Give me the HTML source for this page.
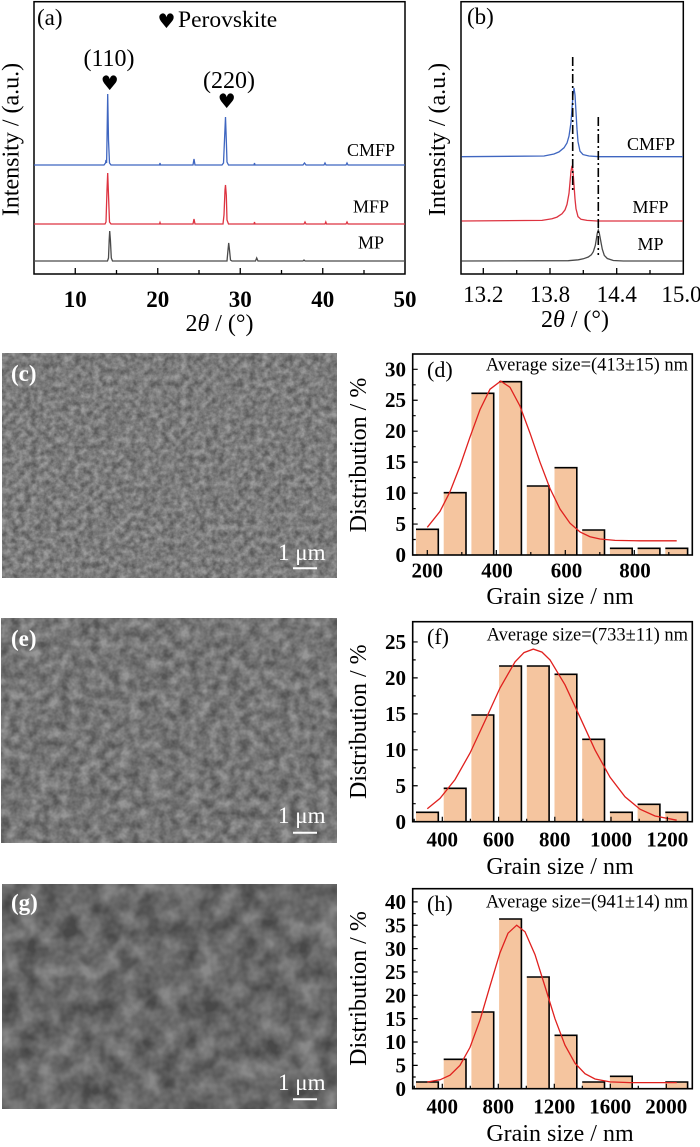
<!DOCTYPE html>
<html>
<head>
<meta charset="utf-8">
<style>
html,body{margin:0;padding:0;background:#fff;}
svg{display:block;}
text{font-family:"Liberation Serif","DejaVu Serif",serif;fill:#000;}
.t24{font-size:24px;}
.tk{font-size:23px;font-weight:bold;}
.tkb{font-size:23px;}
.lab{font-size:18px;}
.hk{font-size:21px;font-weight:bold;}
.avg{font-size:18.5px;}
.w{fill:#fff;}
</style>
</head>
<body>
<svg width="700" height="1147" viewBox="0 0 700 1147" xmlns="http://www.w3.org/2000/svg">
<defs>
<filter id="n1" x="0" y="0" width="1" height="1" color-interpolation-filters="sRGB">
<feTurbulence type="fractalNoise" baseFrequency="0.16" numOctaves="3" seed="2"/>
<feColorMatrix type="matrix" values="1 0 0 0 0 1 0 0 0 0 1 0 0 0 0 0 0 0 0 1"/>
<feComponentTransfer><feFuncR type="linear" slope="1.6" intercept="-0.3"/><feFuncG type="linear" slope="1.6" intercept="-0.3"/><feFuncB type="linear" slope="1.6" intercept="-0.3"/></feComponentTransfer>
</filter>
<filter id="n2" x="0" y="0" width="1" height="1" color-interpolation-filters="sRGB">
<feTurbulence type="fractalNoise" baseFrequency="0.1" numOctaves="3" seed="5"/>
<feColorMatrix type="matrix" values="1 0 0 0 0 1 0 0 0 0 1 0 0 0 0 0 0 0 0 1"/>
<feComponentTransfer><feFuncR type="linear" slope="1.6" intercept="-0.3"/><feFuncG type="linear" slope="1.6" intercept="-0.3"/><feFuncB type="linear" slope="1.6" intercept="-0.3"/></feComponentTransfer>
</filter>
<filter id="n3" x="0" y="0" width="1" height="1" color-interpolation-filters="sRGB">
<feTurbulence type="fractalNoise" baseFrequency="0.05" numOctaves="3" seed="9"/>
<feColorMatrix type="matrix" values="1 0 0 0 0 1 0 0 0 0 1 0 0 0 0 0 0 0 0 1"/>
<feComponentTransfer><feFuncR type="linear" slope="1.6" intercept="-0.3"/><feFuncG type="linear" slope="1.6" intercept="-0.3"/><feFuncB type="linear" slope="1.6" intercept="-0.3"/></feComponentTransfer>
</filter>
</defs>

<!-- ============ PANEL (a) ============ -->
<rect x="34" y="1.7" width="371" height="272.3" fill="none" stroke="#000" stroke-width="1.5"/>
<g stroke="#000" stroke-width="1.3">
<line x1="75.25" y1="274" x2="75.25" y2="268"/>
<line x1="116.5" y1="274" x2="116.5" y2="270"/>
<line x1="157.75" y1="274" x2="157.75" y2="268"/>
<line x1="199" y1="274" x2="199" y2="270"/>
<line x1="240.25" y1="274" x2="240.25" y2="268"/>
<line x1="281.5" y1="274" x2="281.5" y2="270"/>
<line x1="322.75" y1="274" x2="322.75" y2="268"/>
<line x1="364" y1="274" x2="364" y2="270"/>
</g>
<path d="M34,165 L104,165 L105.5,163 L106,160 L106.6,163 L107,140 L107.7,94 L108.5,140 L109.5,163 L111,165 L159.5,165 L160,163 L160.5,165 L193,165 L194,159 L195,165 L222,165 L223.5,163 L224.5,140 L225.5,117 L226.3,140 L227,162 L228.5,165 L254,165 L254.5,163 L255,165 L303,165 L304.5,163 L306,165 L324,165 L325,163 L326,165 L346,165 L347,163 L348,165 L405,165" fill="none" stroke="#3f66c0" stroke-width="1.3"/>
<path d="M34,224 L105,224 L106,222 L107,190 L107.7,173 L108.5,195 L109.5,222 L111,224 L159.5,224 L160,222.5 L160.5,224 L193,224 L194,219 L195,224 L223,224 L224,215 L225,190 L225.5,185 L226.3,195 L227,220 L228.5,224 L254,224 L254.5,222 L255,224 L304,224 L305,222 L306,224 L325,224 L325.8,222 L326.5,224 L346,224 L347,222 L348,224 L405,224" fill="none" stroke="#dd3340" stroke-width="1.3"/>
<path d="M34,261 L107.5,261 L108.5,258 L109.2,240 L109.7,231 L110.4,240 L111.3,258 L112.5,261 L227,261 L228,250 L228.7,243 L229.5,250 L230.5,260 L232,261 L255.5,261 L256.7,258 L258,261 L303,261 L304,260 L305,261 L405,261" fill="none" stroke="#4a4a4a" stroke-width="1.3"/>
<text x="37" y="25" class="t24" style="font-size:23px">(a)</text>
<text x="166.5" y="28" text-anchor="middle" style="font-family:'DejaVu Sans',sans-serif;font-size:20px">♥</text>
<text x="178" y="27" style="font-size:23.5px">Perovskite</text>
<text x="109" y="66" text-anchor="middle" class="t24">(110)</text>
<text x="109.7" y="90" text-anchor="middle" style="font-family:'DejaVu Sans',sans-serif;font-size:20px">♥</text>
<text x="229" y="88" text-anchor="middle" class="t24">(220)</text>
<text x="226.7" y="108" text-anchor="middle" style="font-family:'DejaVu Sans',sans-serif;font-size:20px">♥</text>
<text x="395" y="156" text-anchor="end" class="lab">CMFP</text>
<text x="389" y="212.5" text-anchor="end" class="lab">MFP</text>
<text x="384" y="248.5" text-anchor="end" class="lab">MP</text>
<g class="tk" text-anchor="middle">
<text x="75.25" y="307" class="tk">10</text>
<text x="157.75" y="307" class="tk">20</text>
<text x="240.25" y="307" class="tk">30</text>
<text x="322.75" y="307" class="tk">40</text>
<text x="405" y="307" class="tk">50</text>
</g>
<text x="219.5" y="331" text-anchor="middle" class="t24">2<tspan font-style="italic">θ</tspan> / (°)</text>
<text transform="translate(18.5,139.5) rotate(-90)" text-anchor="middle" class="t24">Intensity / (a.u.)</text>

<!-- ============ PANEL (b) ============ -->
<rect x="461" y="1.7" width="222.3" height="272.3" fill="none" stroke="#000" stroke-width="1.5"/>
<g stroke="#000" stroke-width="1.3">
<line x1="483.3" y1="274" x2="483.3" y2="268"/>
<line x1="516.7" y1="274" x2="516.7" y2="270"/>
<line x1="550" y1="274" x2="550" y2="268"/>
<line x1="583.3" y1="274" x2="583.3" y2="270"/>
<line x1="616.7" y1="274" x2="616.7" y2="268"/>
<line x1="650" y1="274" x2="650" y2="270"/>
</g>
<path d="M461.7,156.7 L544,156 L554,153.95 L559,151.9 L564,147.8 L567,143 L569,136.1 L571,122.35 L572,108.6 L573,94.9 L574,88 L575,94.9 L576,112 L577,129.2 L578,141.6 L580,151.2 L583,154.6 L589,156 L599,156.7 L683,156.7" fill="none" stroke="#3f66c0" stroke-width="1.3"/>
<path d="M461.7,221 L542,220.4 L552,218.8 L557,217.1 L562,213.8 L565,209.9 L567,204.4 L569,193.4 L570,182.3 L571,171.2 L572,165.7 L573,171.2 L574,185.1 L575,198.9 L576,208.8 L578,216.6 L581,219.3 L587,220.4 L597,221 L683,221" fill="none" stroke="#dd3340" stroke-width="1.3"/>
<path d="M461.7,261 L568.3,260.7 L578.3,259.8 L583.3,258.8 L588.3,257 L591.3,254.8 L593.3,251.7 L595.3,245.5 L596.3,239.3 L597.3,233.1 L598.3,230 L599.3,233.1 L600.3,238.5 L601.3,244 L602.3,249.2 L604.3,255.4 L607.3,258.5 L613.3,260.5 L623.3,261 L683,261" fill="none" stroke="#4a4a4a" stroke-width="1.3"/>
<line x1="572.7" y1="57" x2="572.7" y2="190" stroke="#000" stroke-width="1.6" stroke-dasharray="9 3 2 3"/>
<line x1="598.3" y1="117" x2="598.3" y2="255" stroke="#000" stroke-width="1.6" stroke-dasharray="9 3 2 3"/>
<text x="467" y="24" class="t24" style="font-size:23px">(b)</text>
<text x="675" y="150" text-anchor="end" class="lab">CMFP</text>
<text x="668.5" y="213" text-anchor="end" class="lab">MFP</text>
<text x="663.5" y="250" text-anchor="end" class="lab">MP</text>
<text x="483.3" y="302" text-anchor="middle" class="tkb">13.2</text>
<text x="550" y="302" text-anchor="middle" class="tkb">13.8</text>
<text x="616.7" y="302" text-anchor="middle" class="tkb">14.4</text>
<text x="681.5" y="302" text-anchor="middle" class="tkb">15.0</text>
<text x="575" y="327" text-anchor="middle" class="t24">2<tspan font-style="italic">θ</tspan> / (°)</text>
<text transform="translate(445,139.5) rotate(-90)" text-anchor="middle" class="t24">Intensity / (a.u.)</text>

<!-- ============ SEM images ============ -->
<rect x="2" y="353" width="335" height="225" fill="#7b7b7b"/>
<rect x="2" y="353" width="335" height="225" filter="url(#n1)" opacity="0.25"/>
<text x="11" y="381" class="w" style="font-size:23px;font-weight:bold">(c)</text>
<text x="278" y="560" class="w" style="font-size:23px">1 μm</text>
<line x1="293" y1="568.3" x2="317" y2="568.3" stroke="#fff" stroke-width="2"/>

<rect x="1" y="618" width="336" height="225" fill="#737373"/>
<rect x="1" y="618" width="336" height="225" filter="url(#n2)" opacity="0.25"/>
<text x="11" y="646" class="w" style="font-size:23px;font-weight:bold">(e)</text>
<text x="278" y="823" class="w" style="font-size:23px">1 μm</text>
<line x1="293" y1="832.7" x2="317" y2="832.7" stroke="#fff" stroke-width="2"/>

<rect x="2" y="884" width="335" height="225" fill="#616161"/>
<rect x="2" y="884" width="335" height="225" filter="url(#n3)" opacity="0.25"/>
<text x="11" y="910" class="w" style="font-size:23px;font-weight:bold">(g)</text>
<text x="278" y="1090" class="w" style="font-size:23px">1 μm</text>
<line x1="293" y1="1099.3" x2="317" y2="1099.3" stroke="#fff" stroke-width="2"/>

<!-- ============ PANEL (d) ============ -->
<g fill="#F5C59F">
<rect x="416" y="529.3" width="22.3" height="25.7"/>
<rect x="443.7" y="492.7" width="22.3" height="62.3"/>
<rect x="471.4" y="393.3" width="22.3" height="161.7"/>
<rect x="499.1" y="381.7" width="22.3" height="173.3"/>
<rect x="526.8" y="486" width="22.3" height="69"/>
<rect x="554.5" y="467.7" width="22.3" height="87.3"/>
<rect x="582.2" y="530" width="22.3" height="25"/>
<rect x="609.9" y="548.3" width="22.3" height="6.7"/>
<rect x="637.6" y="548.3" width="22.3" height="6.7"/>
<rect x="665.3" y="548.3" width="22.3" height="6.7"/>
</g>
<path d="M416,529.3H438.3V555 M443.7,492.7H466V555 M471.4,393.3H493.7V555 M499.1,381.7H521.4V555 M526.8,486H549.1V555 M554.5,467.7H576.8V555 M582.2,530H604.5V555 M609.9,548.3H632.2V555 M637.6,548.3H659.9V555 M665.3,548.3H687.6V555" fill="none" stroke="#000" stroke-width="1.6"/>
<path d="M427.3,527.3 L440,511.4 L450,491.7 L460,466.1 L470,437.1 L480,409.6 L490,389.2 L500.7,381.1 L510,387.3 L520,406.1 L530,433.1 L540,462.2 L550,488.5 L560,509 L570,523.2 L580,531.9 L590,536.7 L600,539 L615,540.4 L640,540.8 L676.7,540.8" fill="none" stroke="#e0201e" stroke-width="1.3"/>
<rect x="412.7" y="354" width="279.6" height="201" fill="none" stroke="#000" stroke-width="1.6"/>
<g stroke="#000" stroke-width="1.2">
<path d="M412.7,555h5 M412.7,539.5h3 M412.7,524.05h5 M412.7,508.6h3 M412.7,493.1h5 M412.7,477.6h3 M412.7,462.15h5 M412.7,446.7h3 M412.7,431.2h5 M412.7,415.7h3 M412.7,400.25h5 M412.7,384.8h3 M412.7,369.3h5"/>
<path d="M427.3,555v-5 M461.8,555v-3 M496.3,555v-5 M530.8,555v-3 M565.3,555v-5 M599.8,555v-3 M634.3,555v-5 M668.8,555v-3"/>
</g>
<g text-anchor="end">
<text x="406" y="562" class="hk">0</text>
<text x="406" y="531" class="hk">5</text>
<text x="406" y="500" class="hk">10</text>
<text x="406" y="469" class="hk">15</text>
<text x="406" y="438" class="hk">20</text>
<text x="406" y="407" class="hk">25</text>
<text x="406" y="376.5" class="hk">30</text>
</g>
<g text-anchor="middle">
<text x="427.3" y="577.5" class="hk">200</text>
<text x="497" y="577.5" class="hk">400</text>
<text x="566.5" y="577.5" class="hk">600</text>
<text x="635" y="577.5" class="hk">800</text>
</g>
<text x="427" y="377" class="t24" style="font-size:22px">(d)</text>
<text x="688" y="370.5" text-anchor="end" class="avg">Average size=(413±15) nm</text>
<text x="560" y="604" text-anchor="middle" class="t24">Grain size / nm</text>
<text transform="translate(366,455) rotate(-90)" text-anchor="middle" class="t24">Distribution / %</text>

<!-- ============ PANEL (f) ============ -->
<g fill="#F5C59F">
<rect x="416" y="812.3" width="22.3" height="9.4"/>
<rect x="443.7" y="788.3" width="22.3" height="33.4"/>
<rect x="471.4" y="715" width="22.3" height="106.7"/>
<rect x="499.1" y="666" width="22.3" height="155.7"/>
<rect x="526.8" y="666" width="22.3" height="155.7"/>
<rect x="554.5" y="674.3" width="22.3" height="147.4"/>
<rect x="582.2" y="739.3" width="22.3" height="82.4"/>
<rect x="609.9" y="812.3" width="22.3" height="9.4"/>
<rect x="637.6" y="804.3" width="22.3" height="17.4"/>
<rect x="665.3" y="812.3" width="22.3" height="9.4"/>
</g>
<path d="M416,812.3H438.3V821.7 M443.7,788.3H466V821.7 M471.4,715H493.7V821.7 M499.1,666H521.4V821.7 M526.8,666H549.1V821.7 M554.5,674.3H576.8V821.7 M582.2,739.3H604.5V821.7 M609.9,812.3H632.2V821.7 M637.6,804.3H659.9V821.7 M665.3,812.3H687.6V821.7" fill="none" stroke="#000" stroke-width="1.6"/>
<path d="M427.3,808.7 L440,798.4 L455,779.6 L470,753.1 L485,720.9 L500,688 L515,661.9 L524,652.6 L533.3,649.1 L542,652.1 L550,659.9 L565,684.8 L580,717.2 L595,749.9 L610,777.2 L625,796.8 L640,809.2 L655,816 L676.7,820.2" fill="none" stroke="#e0201e" stroke-width="1.3"/>
<rect x="412.7" y="621.7" width="279.6" height="200" fill="none" stroke="#000" stroke-width="1.6"/>
<g stroke="#000" stroke-width="1.2">
<path d="M412.7,821.7h5 M412.7,803.7h3 M412.7,785.75h5 M412.7,767.8h3 M412.7,749.8h5 M412.7,731.8h3 M412.7,713.85h5 M412.7,695.9h3 M412.7,677.9h5 M412.7,659.9h3 M412.7,641.95h5"/>
<path d="M414.2,821.7v-3 M442.3,821.7v-5 M470.4,821.7v-3 M498.6,821.7v-5 M526.7,821.7v-3 M554.8,821.7v-5 M582.9,821.7v-3 M611,821.7v-5 M639.2,821.7v-3 M667.3,821.7v-5"/>
</g>
<g text-anchor="end">
<text x="406" y="829" class="hk">0</text>
<text x="406" y="793" class="hk">5</text>
<text x="406" y="757" class="hk">10</text>
<text x="406" y="721" class="hk">15</text>
<text x="406" y="685" class="hk">20</text>
<text x="406" y="649" class="hk">25</text>
</g>
<g text-anchor="middle">
<text x="442.3" y="846.5" class="hk">400</text>
<text x="498.6" y="846.5" class="hk">600</text>
<text x="554.8" y="846.5" class="hk">800</text>
<text x="611" y="846.5" class="hk">1000</text>
<text x="667.3" y="846.5" class="hk">1200</text>
</g>
<text x="427" y="644" class="t24" style="font-size:22px">(f)</text>
<text x="688" y="640.5" text-anchor="end" class="avg">Average size=(733±11) nm</text>
<text x="560" y="874" text-anchor="middle" class="t24">Grain size / nm</text>
<text transform="translate(366,721.7) rotate(-90)" text-anchor="middle" class="t24">Distribution / %</text>

<!-- ============ PANEL (h) ============ -->
<g fill="#F5C59F">
<rect x="416" y="1082" width="22.3" height="6.7"/>
<rect x="443.7" y="1059.3" width="22.3" height="29.4"/>
<rect x="471.4" y="1012" width="22.3" height="76.7"/>
<rect x="499.1" y="919" width="22.3" height="169.7"/>
<rect x="526.8" y="977" width="22.3" height="111.7"/>
<rect x="554.5" y="1035.3" width="22.3" height="53.4"/>
<rect x="582.2" y="1082" width="22.3" height="6.7"/>
<rect x="609.9" y="1076.3" width="22.3" height="12.4"/>
<rect x="665.3" y="1082" width="22.3" height="6.7"/>
</g>
<path d="M416,1082H438.3V1088.7 M443.7,1059.3H466V1088.7 M471.4,1012H493.7V1088.7 M499.1,919H521.4V1088.7 M526.8,977H549.1V1088.7 M554.5,1035.3H576.8V1088.7 M582.2,1082H604.5V1088.7 M609.9,1076.3H632.2V1088.7 M665.3,1082H687.6V1088.7" fill="none" stroke="#000" stroke-width="1.6"/>
<path d="M427.3,1082 L440,1079.8 L450,1075.2 L460,1065.3 L470,1047.4 L480,1020.1 L490,986.1 L500,952.7 L508,933.2 L516.7,925.2 L525,931.8 L535,954.6 L545,986.5 L555,1018.8 L565,1045.2 L575,1063.2 L585,1073.7 L595,1079 L610,1081.9 L630,1082.6 L676.7,1082.6" fill="none" stroke="#e0201e" stroke-width="1.3"/>
<rect x="412.7" y="888.7" width="279.6" height="200" fill="none" stroke="#000" stroke-width="1.6"/>
<g stroke="#000" stroke-width="1.2">
<path d="M412.7,1088.7h5 M412.7,1077h3 M412.7,1065.35h5 M412.7,1053.7h3 M412.7,1042h5 M412.7,1030.3h3 M412.7,1018.65h5 M412.7,1007h3 M412.7,995.3h5 M412.7,983.6h3 M412.7,971.95h5 M412.7,960.3h3 M412.7,948.6h5 M412.7,936.9h3 M412.7,925.25h5 M412.7,913.6h3 M412.7,901.9h5"/>
<path d="M414.3,1088.7v-3 M442.3,1088.7v-5 M470.3,1088.7v-3 M498.3,1088.7v-5 M526.3,1088.7v-3 M554.3,1088.7v-5 M582.3,1088.7v-3 M610.3,1088.7v-5 M638.3,1088.7v-3 M666.3,1088.7v-5"/>
</g>
<g text-anchor="end">
<text x="406" y="1096" class="hk">0</text>
<text x="406" y="1072.5" class="hk">5</text>
<text x="406" y="1049" class="hk">10</text>
<text x="406" y="1026" class="hk">15</text>
<text x="406" y="1002.5" class="hk">20</text>
<text x="406" y="979" class="hk">25</text>
<text x="406" y="956" class="hk">30</text>
<text x="406" y="932.5" class="hk">35</text>
<text x="406" y="909" class="hk">40</text>
</g>
<g text-anchor="middle">
<text x="442.3" y="1113.5" class="hk">400</text>
<text x="498.3" y="1113.5" class="hk">800</text>
<text x="554.3" y="1113.5" class="hk">1200</text>
<text x="610.3" y="1113.5" class="hk">1600</text>
<text x="666.3" y="1113.5" class="hk">2000</text>
</g>
<text x="427" y="911" class="t24" style="font-size:22px">(h)</text>
<text x="688" y="907.5" text-anchor="end" class="avg">Average size=(941±14) nm</text>
<text x="560" y="1141" text-anchor="middle" class="t24">Grain size / nm</text>
<text transform="translate(366,988.5) rotate(-90)" text-anchor="middle" class="t24">Distribution / %</text>
</svg>
</body>
</html>
